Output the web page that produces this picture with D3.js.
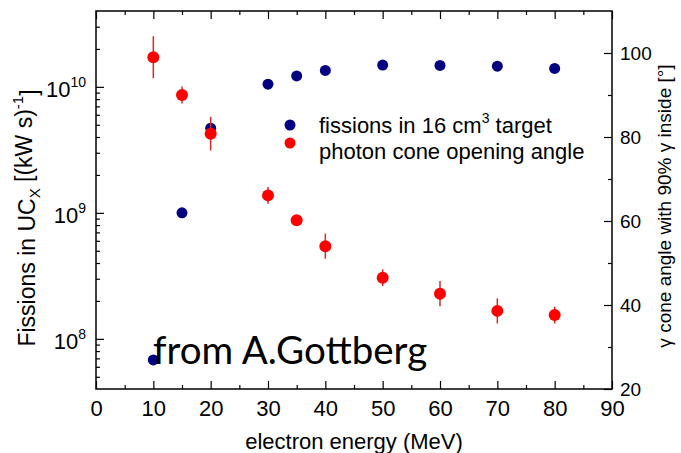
<!DOCTYPE html>
<html>
<head>
<meta charset="utf-8">
<script src="https://cdn.jsdelivr.net/npm/d3@7"></script>
<style>
  html, body { margin: 0; padding: 0; background: #fff; }
  svg { display: block; font-family: "Liberation Sans", Arial, sans-serif; }
</style>
</head>
<body>
<svg id="chart" width="681" height="453"></svg>
<script>
// Electron energies (MeV)
const energies = [10, 15, 20, 30, 35, 40, 50, 60, 70, 80];
// Fissions in a 16 cm^3 UCx target, per kW s
const fissions = [6.8e7, 1.0e9, 4.7e9, 1.05e10, 1.22e10, 1.35e10, 1.49e10, 1.48e10, 1.46e10, 1.40e10];
// Photon cone opening angle (deg) containing 90% of gammas, with uncertainty
const coneAngle = [99, 90, 80.8, 66.1, 60.2, 54, 46.5, 42.7, 38.6, 37.6];
const coneErr   = [5, 2, 4, 2, 0.8, 3, 2, 3, 3, 2];

// Tick values
const xMajorTicks = [0, 10, 20, 30, 40, 50, 60, 70, 80, 90];
const xMinorTicks = [5, 15, 25, 35, 45, 55, 65, 75, 85];
const leftMajorTicks = [1e8, 1e9, 1e10];
const leftMinorFactors = [2, 3, 4, 5, 6, 7, 8, 9];
const rightMajorTicks = [20, 40, 60, 80, 100];
const rightMinorTicks = [30, 50, 70, 90];

const legendLabels = ["fissions in 16 cm", "photon cone opening angle"];

const svg = d3.select("#chart");
const L = 96, R = 612, T = 11, B = 389;

const x = d3.scaleLinear().domain([0, 90]).range([L, R]);
const yL = d3.scaleLog().domain([4e7, 4e10]).range([B, T]);
const yR = d3.scaleLinear().domain([20, 110]).range([B, T]);

const leftMinor = [];
[1e7, 1e8, 1e9, 1e10].forEach(d => leftMinorFactors.forEach(k => {
  const v = d * k;
  if (v > 4e7 && v < 4e10) leftMinor.push(v);
}));

const MAJ = 8, MIN = 4;

function styleAxis(g) {
  g.select(".domain").remove();
  g.selectAll(".tick line").attr("stroke", "#000").attr("stroke-width", 1.2);
  g.selectAll(".tick text").attr("fill", "#000");
}

// Bottom axis
svg.append("g").attr("transform", `translate(0,${B})`)
  .call(d3.axisBottom(x).tickValues(xMajorTicks).tickSize(-MAJ).tickPadding(11).tickFormat(d3.format("d")))
  .call(styleAxis)
  .call(g => g.selectAll(".tick text").attr("font-size", 22).attr("dy", "0.71em"));
svg.append("g").attr("transform", `translate(0,${B})`)
  .call(d3.axisBottom(x).tickValues(xMinorTicks).tickSize(-MIN).tickFormat(""))
  .call(styleAxis);

// Top axis (ticks only)
svg.append("g").attr("transform", `translate(0,${T})`)
  .call(d3.axisTop(x).tickValues(xMajorTicks).tickSize(-MAJ).tickFormat(""))
  .call(styleAxis);
svg.append("g").attr("transform", `translate(0,${T})`)
  .call(d3.axisTop(x).tickValues(xMinorTicks).tickSize(-MIN).tickFormat(""))
  .call(styleAxis);

// Left log axis
const leftAxisG = svg.append("g").attr("transform", `translate(${L},0)`)
  .call(d3.axisLeft(yL).tickValues(leftMajorTicks).tickSize(-MAJ).tickPadding(10))
  .call(styleAxis);
leftAxisG.selectAll(".tick text").each(function(d) {
  const t = d3.select(this).text("").attr("font-size", 22).attr("dy", "0.45em");
  t.append("tspan").text("10");
  t.append("tspan").attr("font-size", 14).attr("dy", "-0.75em").text(Math.round(Math.log10(d)));
});
svg.append("g").attr("transform", `translate(${L},0)`)
  .call(d3.axisLeft(yL).tickValues(leftMinor).tickSize(-MIN).tickFormat(""))
  .call(styleAxis);

// Right linear axis
svg.append("g").attr("transform", `translate(${R},0)`)
  .call(d3.axisRight(yR).tickValues(rightMajorTicks).tickSize(-MAJ).tickPadding(8).tickFormat(d3.format("d")))
  .call(styleAxis)
  .call(g => g.selectAll(".tick text").attr("font-size", 19));
svg.append("g").attr("transform", `translate(${R},0)`)
  .call(d3.axisRight(yR).tickValues(rightMinorTicks).tickSize(-MIN).tickFormat(""))
  .call(styleAxis);

// Frame
svg.append("rect").attr("x", L).attr("y", T).attr("width", R - L).attr("height", B - T)
  .attr("fill", "none").attr("stroke", "#000").attr("stroke-width", 1.5);

// Axis titles
svg.append("text").attr("x", (L + R) / 2).attr("y", 449).attr("text-anchor", "middle")
  .attr("font-size", 22).text("electron energy (MeV)");

const lt = svg.append("text").attr("transform", `translate(35,${(T + B) / 2 + 18}) rotate(-90)`)
  .attr("text-anchor", "middle").attr("font-size", 23);
lt.append("tspan").text("Fissions in UC");
lt.append("tspan").attr("font-size", 15).attr("dy", "0.35em").text("X");
lt.append("tspan").attr("dy", "-0.35em").text(" [(kW s)");
lt.append("tspan").attr("font-size", 15).attr("dy", "-0.6em").text("-1");
lt.append("tspan").attr("dy", "0.6em").text("]");

svg.append("text").attr("transform", `translate(671,${(T + B) / 2 + 6}) rotate(-90)`)
  .attr("text-anchor", "middle").attr("font-size", 19)
  .text("\u03b3 cone angle with 90% \u03b3 inside [\u00b0]");

// Fissions series (navy dots)
svg.append("g").selectAll("circle").data(energies).join("circle")
  .attr("cx", d => x(d)).attr("cy", (d, i) => yL(fissions[i])).attr("r", 5.5)
  .attr("fill", "#000080");

// Cone angle series with error bars (red)
svg.append("g").selectAll("line").data(energies).join("line")
  .attr("x1", d => x(d)).attr("x2", d => x(d))
  .attr("y1", (d, i) => yR(coneAngle[i] + coneErr[i]))
  .attr("y2", (d, i) => yR(coneAngle[i] - coneErr[i]))
  .attr("stroke", "#d62a2a").attr("stroke-width", 1.5);
svg.append("g").selectAll("circle").data(energies).join("circle")
  .attr("cx", d => x(d)).attr("cy", (d, i) => yR(coneAngle[i])).attr("r", 6)
  .attr("fill", "#ff0000");

// Legend
const leg = svg.append("g");
leg.append("circle").attr("cx", 290).attr("cy", 125).attr("r", 5.5).attr("fill", "#000080");
leg.append("circle").attr("cx", 290).attr("cy", 143).attr("r", 5.5).attr("fill", "#ff0000");
const l1 = leg.append("text").attr("x", 319).attr("y", 133).attr("font-size", 22);
l1.append("tspan").text(legendLabels[0]);
l1.append("tspan").attr("font-size", 14).attr("dy", "-0.75em").text("3");
l1.append("tspan").attr("dy", "0.48em").text(" target");
leg.append("text").attr("x", 319).attr("y", 159).attr("font-size", 22).text(legendLabels[1]);

// Attribution
svg.append("text").attr("x", 153).attr("y", 364)
  .attr("font-family", "Lato, 'Open Sans', sans-serif").attr("font-size", 38.5)
  .attr("fill", "#000").text("from A.Gottberg");
</script>
</body>
</html>
